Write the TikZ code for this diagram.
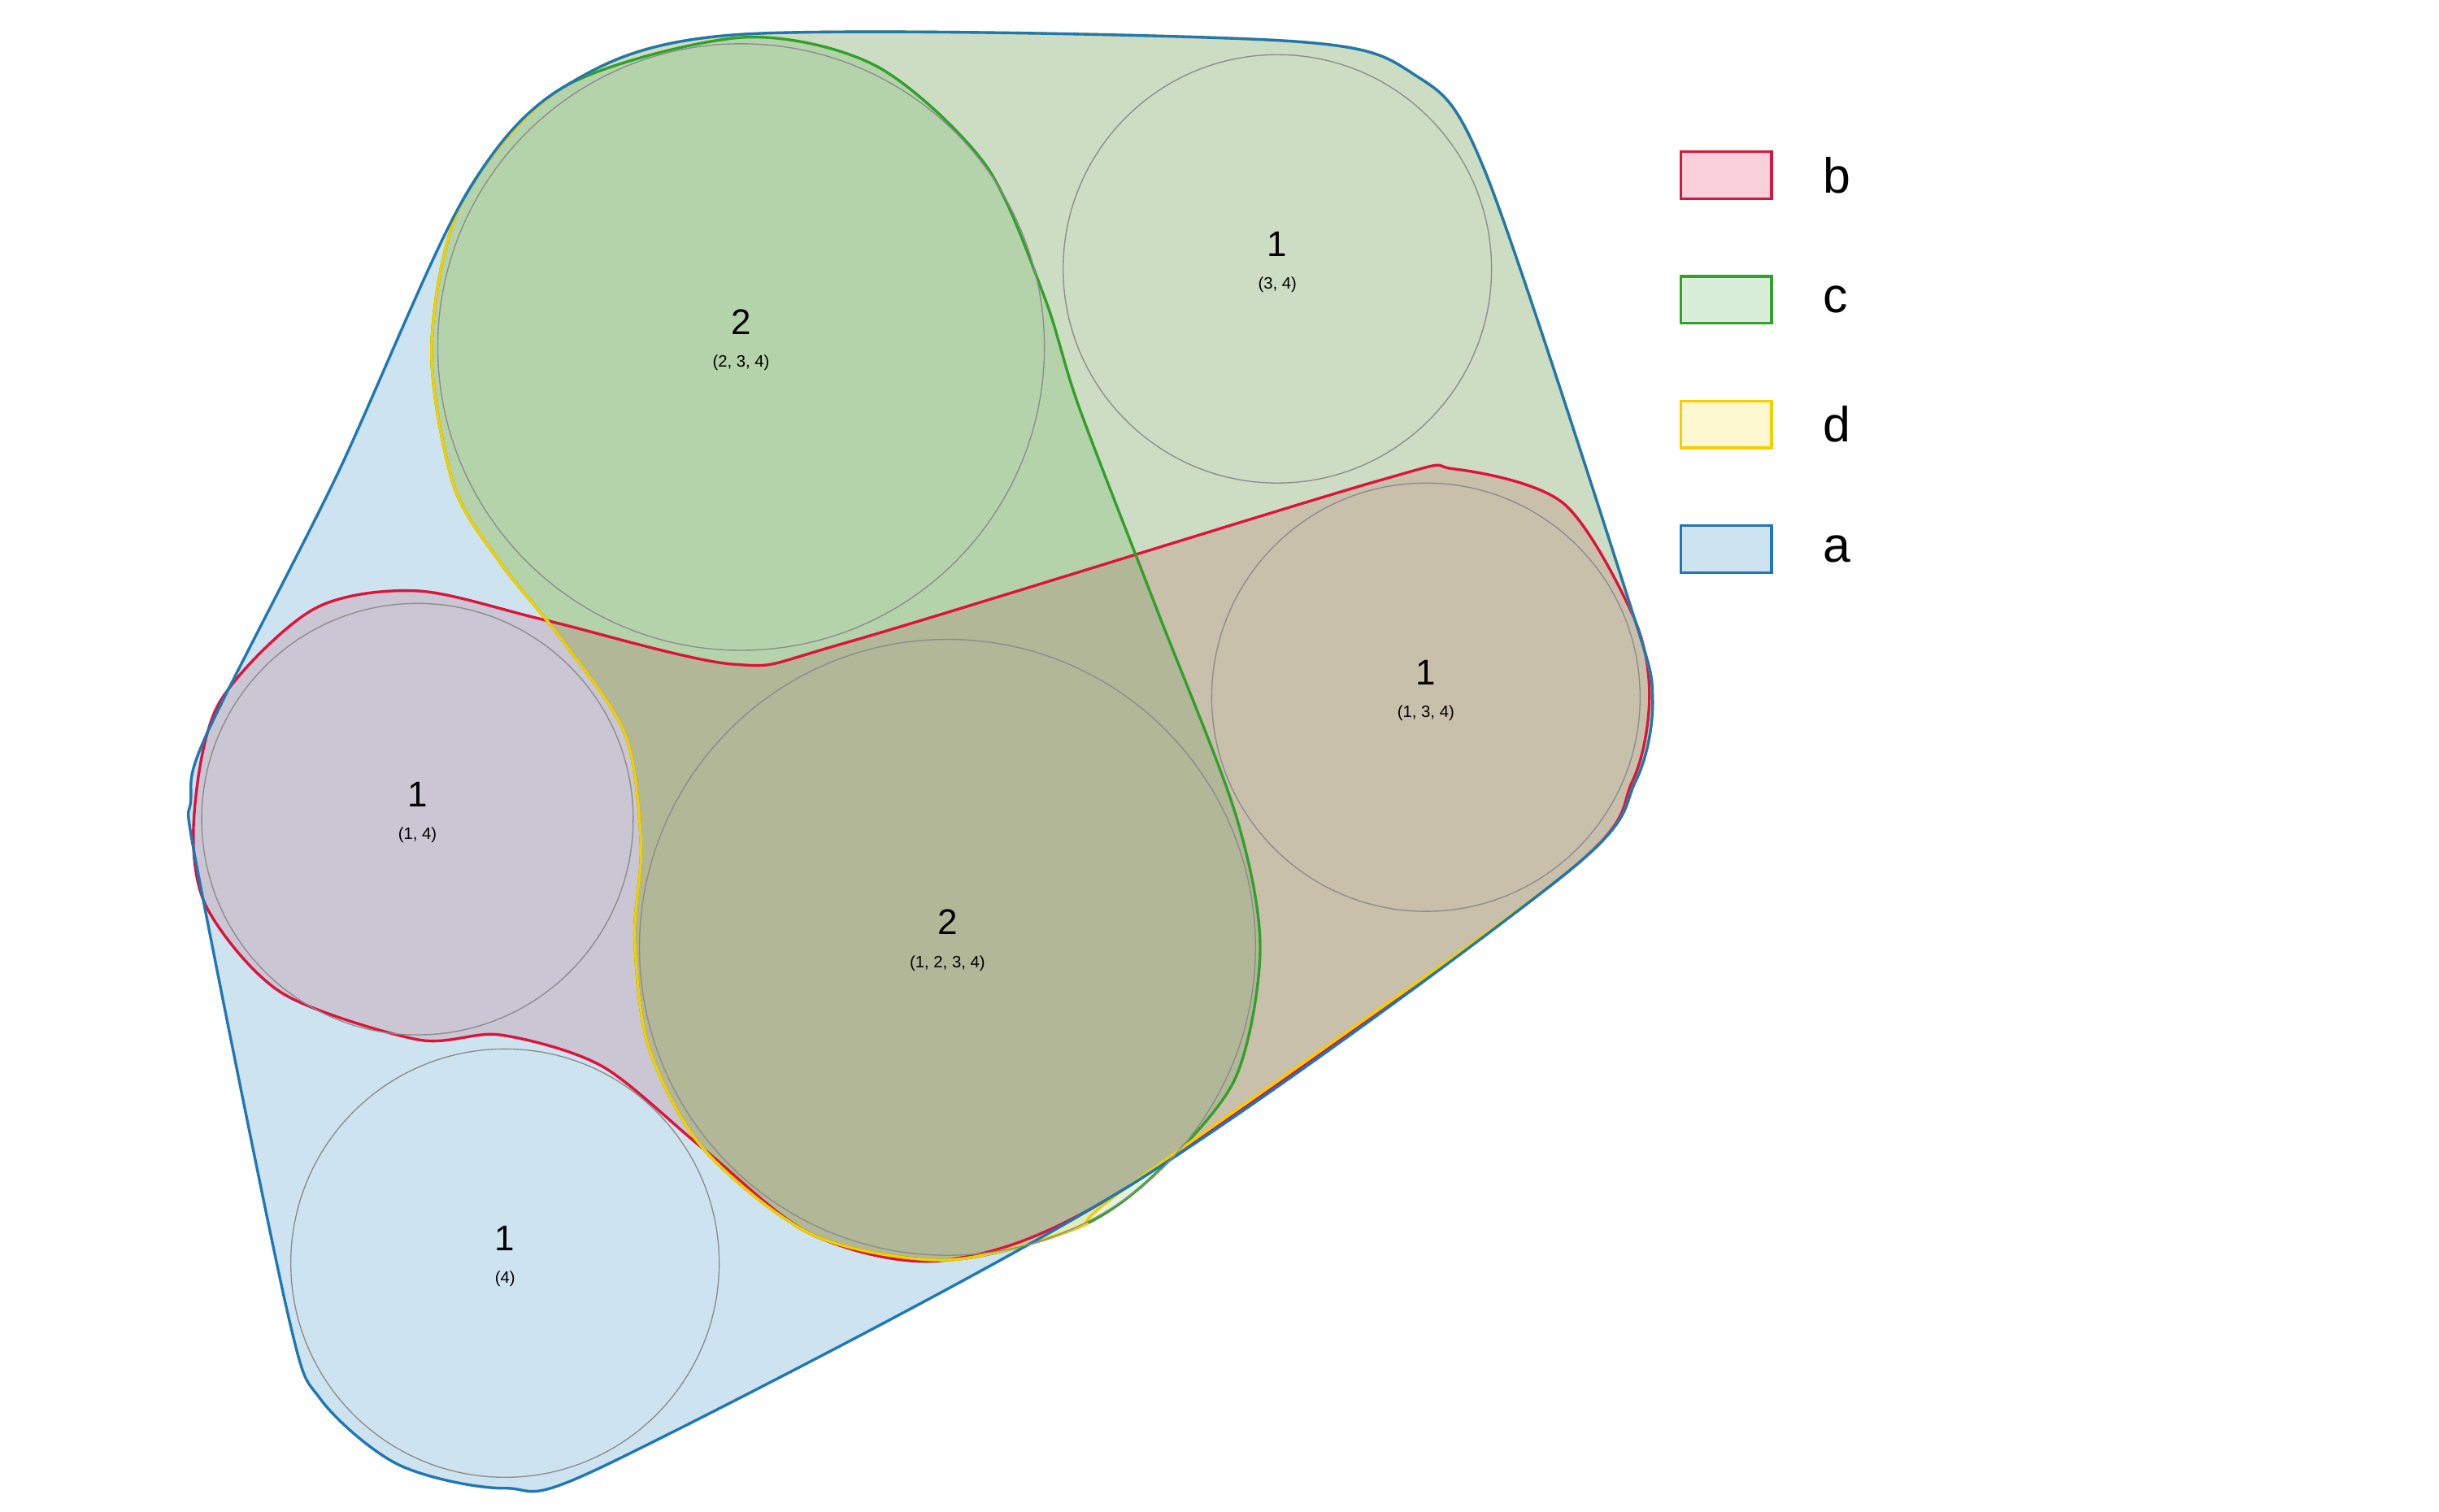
\documentclass[tikz,border=0pt]{standalone}
\usepackage{fontspec}
\setmainfont{Liberation Sans}
\usetikzlibrary{positioning}
\definecolor{setA}{RGB}{31,120,180}
\definecolor{setB}{RGB}{220,20,60}
\definecolor{setC}{RGB}{51,160,44}
\definecolor{setD}{RGB}{245,205,0}
\definecolor{fillA}{RGB}{205,228,240}
\definecolor{fillB}{RGB}{249,208,218}
\definecolor{fillC}{RGB}{217,238,217}
\definecolor{fillD}{RGB}{254,248,208}
\definecolor{mixC}{RGB}{226,244,224}
\definecolor{mixB}{RGB}{252,222,226}
\tikzset{
  edge/.style={line width=0.5pt},
  cell/.style={circle, draw=black!45, line width=0.2pt, inner sep=0pt},
  count/.style={font=\fontsize{6.5}{7}\selectfont, inner sep=0pt},
  members/.style={font=\fontsize{3}{3.5}\selectfont, inner sep=0pt},
  key/.style={draw, line width=0.5pt, minimum width=0.58cm, minimum height=0.3cm, inner sep=0pt},
  keytext/.style={font=\fontsize{9}{10}\selectfont, anchor=west}
}
\def\setApath{plot[smooth cycle, tension=0.5] coordinates {
    (122,512) (132,470) (215,305) (296,128) (360,56) (474,22) (820,26) (905,48)
    (950,110) (1042,385) (1057,446) (1046,500) (1000,560) (720,760) (390,936)
    (323,952) (255,937) (205,895) (184,840) (126,555)}}
\def\setBpath{plot[smooth cycle, tension=0.5] coordinates {
    (124,524) (140,450) (200,390) (267,378) (350,397) (470,425) (545,410)
    (880,308) (930,300) (1000,322) (1045,395) (1055,446) (1044,500) (1000,560)
    (720,760) (606,806) (520,790) (450,735) (385,682) (320,662) (267,665)
    (180,635) (132,580)}}
\def\setCpath{plot[smooth cycle, tension=0.5] coordinates {
    (474,24) (560,42) (630,105) (668,190) (690,260) (740,390) (790,520) (806,606)
    (790,690) (740,750) (690,785) (606,806) (520,790) (450,735) (415,670)
    (406,600) (410,540) (400,470) (360,410) (320,360) (290,310) (276,222)
    (295,130) (360,56)}}
\def\setDpath{plot[smooth cycle, tension=0.5] coordinates {
    (474,22) (820,26) (905,48) (950,110) (1042,385) (1057,446) (1046,500)
    (1000,560) (720,760) (690,785) (606,806) (520,790) (450,735) (415,670)
    (406,600) (410,540) (400,470) (360,410) (320,360) (290,310) (276,222)
    (295,130) (360,56)}}
\begin{document}
\begin{tikzpicture}[x=0.1mm, y=-0.1mm]
        \useasboundingbox (0,0) rectangle (1560,967);
        % fills
        \begin{scope}[blend group=multiply]
            \fill[fillA] \setApath;
            \fill[fillD] \setDpath;
            \fill[mixC] \setCpath;
            \fill[mixB] \setBpath;
        \end{scope}
        % outlines
        \draw[edge, setB] \setBpath;
        \draw[edge, setC] \setCpath;
        \draw[edge, setD] \setDpath;
        \draw[edge, setA] \setApath;

        % regions
        \node[cell, minimum size=3.88cm] (c234) at (474,222) {};
        \node[cell, minimum size=2.74cm] (c34) at (817,172) {};
        \node[cell, minimum size=2.74cm] (c134) at (912,446) {};
        \node[cell, minimum size=2.76cm] (c14) at (267,524) {};
        \node[cell, minimum size=3.94cm] (c1234) at (606,606) {};
        \node[cell, minimum size=2.74cm] (c4) at (323,808) {};
        \foreach \name/\n/\lbl in {c234/2/{(2, 3, 4)}, c34/1/{(3, 4)}, c134/1/{(1, 3, 4)},
                                   c14/1/{(1, 4)}, c1234/2/{(1, 2, 3, 4)}, c4/1/{(4)}} {
            \node[count] (\name-n) at ([yshift=0.16cm]\name.center) {\n};
            \node[members, below=0.12cm of \name-n] (\name-m) {\lbl};
        }

        % legend
        \node[key, draw=setB, fill=fillB] (kb) at (1104,112) {};
        \node[key, draw=setC, fill=fillC, below=0.48cm of kb] (kc) {};
        \node[key, draw=setD, fill=fillD, below=0.48cm of kc] (kd) {};
        \node[key, draw=setA, fill=fillA, below=0.48cm of kd] (ka) {};
        \foreach \k in {b,c,d,a}
            \node[keytext, right=0.2cm of k\k] {\k};
\end{tikzpicture}
\end{document}
